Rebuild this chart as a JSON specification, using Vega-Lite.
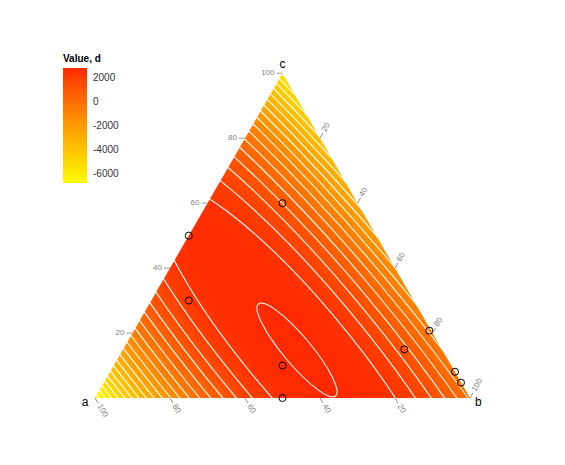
{
  "$schema": "https://vega.github.io/schema/vega-lite/v6.json",
  "width": 565,
  "height": 465,
  "padding": 0,
  "autosize": {"type": "none"},
  "background": "white",
  "config": {"view": {"stroke": null}, "font": "Liberation Sans"},
  "datasets": {
    "bands": [
      {"level": -7500},{"level": -7400},{"level": -7300},{"level": -7200},{"level": -7100},{"level": -7000},{"level": -6900},{"level": -6800},{"level": -6700},{"level": -6600},
      {"level": -6500},{"level": -6400},{"level": -6300},{"level": -6200},{"level": -6100},{"level": -6000},{"level": -5900},{"level": -5800},{"level": -5700},{"level": -5600},
      {"level": -5500},{"level": -5400},{"level": -5300},{"level": -5200},{"level": -5100},{"level": -5000},{"level": -4900},{"level": -4800},{"level": -4700},{"level": -4600},
      {"level": -4500},{"level": -4400},{"level": -4300},{"level": -4200},{"level": -4100},{"level": -4000},{"level": -3900},{"level": -3800},{"level": -3700},{"level": -3600},
      {"level": -3500},{"level": -3400},{"level": -3300},{"level": -3200},{"level": -3100},{"level": -3000},{"level": -2900},{"level": -2800},{"level": -2700},{"level": -2600},
      {"level": -2500},{"level": -2400},{"level": -2300},{"level": -2200},{"level": -2100},{"level": -2000},{"level": -1900},{"level": -1800},{"level": -1700},{"level": -1600},
      {"level": -1500},{"level": -1400},{"level": -1300},{"level": -1200},{"level": -1100},{"level": -1000},{"level": -900},{"level": -800},{"level": -700},{"level": -600},
      {"level": -500},{"level": -400},{"level": -300},{"level": -200},{"level": -100},{"level": 0},{"level": 100},{"level": 200},{"level": 300},{"level": 400},
      {"level": 500},{"level": 600},{"level": 700},{"level": 800},{"level": 900},{"level": 1000},{"level": 1100},{"level": 1200},{"level": 1300},{"level": 1400},
      {"level": 1500},{"level": 1600},{"level": 1700},{"level": 1800},{"level": 1900},{"level": 2000},{"level": 2100},{"level": 2200},{"level": 2300},{"level": 2400},
      {"level": 2500},{"level": 2600},{"level": 2700},{"level": 2800},{"level": 2900},{"level": 3000},{"level": 3050}
    ],
    "contours": [
      {"level": -7000},{"level": -6500},{"level": -6000},{"level": -5500},{"level": -5000},{"level": -4500},{"level": -4000},
      {"level": -3500},{"level": -3000},{"level": -2500},{"level": -2000},{"level": -1500},{"level": -1000},{"level": -500},
      {"level": 0},{"level": 500},{"level": 1000},{"level": 1500},{"level": 2000},{"level": 2500},{"level": 3000}
    ],
    "mask": [
      {"poly": "A", "i": 0, "x": -30, "y": -20},
      {"poly": "A", "i": 1, "x": 130, "y": -20},
      {"poly": "A", "i": 2, "x": 130, "y": 0},
      {"poly": "A", "i": 3, "x": -30, "y": 0},
      {"poly": "B", "i": 0, "x": -30, "y": -5},
      {"poly": "B", "i": 1, "x": 0, "y": 0},
      {"poly": "B", "i": 2, "x": 50, "y": 86.603},
      {"poly": "B", "i": 3, "x": 100, "y": 0},
      {"poly": "B", "i": 4, "x": 130, "y": -5},
      {"poly": "B", "i": 5, "x": 130, "y": 112},
      {"poly": "B", "i": 6, "x": -30, "y": 112}
    ],
    "pts": [
      {"x": 25.0, "y": 43.3},
      {"x": 50.0, "y": 51.96},
      {"x": 25.0, "y": 25.98},
      {"x": 50.0, "y": 8.66},
      {"x": 50.0, "y": 0.0},
      {"x": 82.5, "y": 12.99},
      {"x": 89.15, "y": 17.95},
      {"x": 96.0, "y": 7.0},
      {"x": 97.6, "y": 4.1}
    ],
    "ticks": [
      {"ax": "c", "label": "20", "x": 10, "y": 17.32},
      {"ax": "c", "label": "40", "x": 20, "y": 34.64},
      {"ax": "c", "label": "60", "x": 30, "y": 51.96},
      {"ax": "c", "label": "80", "x": 40, "y": 69.28},
      {"ax": "c", "label": "100", "x": 50, "y": 86.6},
      {"ax": "a", "label": "100", "x": 0, "y": 0},
      {"ax": "a", "label": "80", "x": 20, "y": 0},
      {"ax": "a", "label": "60", "x": 40, "y": 0},
      {"ax": "a", "label": "40", "x": 60, "y": 0},
      {"ax": "a", "label": "20", "x": 80, "y": 0},
      {"ax": "b", "label": "20", "x": 60, "y": 69.28},
      {"ax": "b", "label": "40", "x": 70, "y": 51.96},
      {"ax": "b", "label": "60", "x": 80, "y": 34.64},
      {"ax": "b", "label": "80", "x": 90, "y": 17.32},
      {"ax": "b", "label": "100", "x": 100, "y": 0}
    ],
    "corners": [
      {"label": "a", "x": -2.67, "y": -1.0},
      {"label": "b", "x": 102.2, "y": -1.0},
      {"label": "c", "x": 50, "y": 89.1}
    ]
  },
  "layer": [
    {
      "data": {"name": "bands"},
      "mark": {"type": "point", "shape": "M-1,0A1,0.233,0,1,1,1,0A1,0.233,0,1,1,-1,0Z", "filled": true, "angle": 50, "strokeWidth": 0, "opacity": 1},
      "encoding": {
        "x": {"datum": 53.87, "type": "quantitative", "scale": {"domain": [-25.333, 125.333], "nice": false, "zero": false}, "axis": null},
        "y": {"datum": 12.8, "type": "quantitative", "scale": {"domain": [-17.867, 106.133], "nice": false, "zero": false}, "axis": null},
        "size": {"field": "level", "type": "quantitative", "scale": {"domain": [3100, 3000, 2500, -7500], "range": [0, 14400, 185040, 2742480], "zero": false}, "legend": null},
        "fill": {"field": "level", "type": "quantitative", "title": "Value, d",
          "scale": {"domain": [-6750, -6000, -4000, -2000, 0, 2000, 2833], "range": ["#FFFF00", "#FFEC00", "#FFC400", "#FF9B00", "#FF6E00", "#FF3F00", "#FF2A00"], "clamp": true, "interpolate": "rgb"},
          "legend": {"orient": "none", "legendX": 63, "legendY": 54, "titleFontSize": 10, "titleFontWeight": "bold", "titleColor": "#000000", "titlePadding": 4, "gradientLength": 115, "gradientThickness": 24, "gradientStrokeWidth": 0, "labelFontSize": 10, "labelColor": "#333333", "labelOffset": 6, "values": [2000, 0, -2000, -4000, -6000], "labelExpr": "'' + datum.value", "direction": "vertical"}},
        "order": {"field": "level", "type": "quantitative", "sort": "ascending"}
      }
    },
    {
      "data": {"name": "contours"},
      "mark": {"type": "point", "shape": "M-1,0A1,0.233,0,1,1,1,0A1,0.233,0,1,1,-1,0Z", "filled": false, "angle": 50, "stroke": "white", "strokeWidth": 1.1, "opacity": 1},
      "encoding": {
        "x": {"datum": 53.87, "type": "quantitative", "axis": null},
        "y": {"datum": 12.8, "type": "quantitative", "axis": null},
        "size": {"field": "level", "type": "quantitative", "legend": null}
      }
    },
    {
      "data": {"name": "mask"},
      "mark": {"type": "line", "fill": "white", "stroke": "white", "strokeWidth": 0},
      "encoding": {
        "x": {"field": "x", "type": "quantitative", "axis": null},
        "y": {"field": "y", "type": "quantitative", "axis": null},
        "detail": {"field": "poly"},
        "order": {"field": "i", "type": "quantitative"}
      }
    },
    {
      "data": {"name": "pts"},
      "mark": {"type": "point", "shape": "circle", "filled": false, "stroke": "black", "strokeWidth": 1, "size": 50, "opacity": 1},
      "encoding": {
        "x": {"field": "x", "type": "quantitative", "axis": null},
        "y": {"field": "y", "type": "quantitative", "axis": null}
      }
    },
    {
      "data": {"name": "ticks"},
      "transform": [{"filter": "datum.ax == 'c'"}],
      "mark": {"type": "point", "shape": "M0,0L1,0", "filled": false, "stroke": "#7f7f7f", "strokeWidth": 0.8, "size": 144, "angle": 180, "opacity": 1},
      "encoding": {"x": {"field": "x", "type": "quantitative", "axis": null}, "y": {"field": "y", "type": "quantitative", "axis": null}}
    },
    {
      "data": {"name": "ticks"},
      "transform": [{"filter": "datum.ax == 'a'"}],
      "mark": {"type": "point", "shape": "M0,0L1,0", "filled": false, "stroke": "#7f7f7f", "strokeWidth": 0.8, "size": 144, "angle": 60, "opacity": 1},
      "encoding": {"x": {"field": "x", "type": "quantitative", "axis": null}, "y": {"field": "y", "type": "quantitative", "axis": null}}
    },
    {
      "data": {"name": "ticks"},
      "transform": [{"filter": "datum.ax == 'b'"}],
      "mark": {"type": "point", "shape": "M0,0L1,0", "filled": false, "stroke": "#7f7f7f", "strokeWidth": 0.8, "size": 144, "angle": -60, "opacity": 1},
      "encoding": {"x": {"field": "x", "type": "quantitative", "axis": null}, "y": {"field": "y", "type": "quantitative", "axis": null}}
    },
    {
      "data": {"name": "ticks"},
      "transform": [{"filter": "datum.ax == 'c'"}],
      "mark": {"type": "text", "align": "right", "baseline": "middle", "dx": -8, "fontSize": 8, "color": "#7f7f7f"},
      "encoding": {"x": {"field": "x", "type": "quantitative", "axis": null}, "y": {"field": "y", "type": "quantitative", "axis": null}, "text": {"field": "label"}}
    },
    {
      "data": {"name": "ticks"},
      "transform": [{"filter": "datum.ax == 'a'"}],
      "mark": {"type": "text", "align": "left", "baseline": "middle", "dx": 8, "angle": 60, "fontSize": 8, "color": "#7f7f7f"},
      "encoding": {"x": {"field": "x", "type": "quantitative", "axis": null}, "y": {"field": "y", "type": "quantitative", "axis": null}, "text": {"field": "label"}}
    },
    {
      "data": {"name": "ticks"},
      "transform": [{"filter": "datum.ax == 'b'"}],
      "mark": {"type": "text", "align": "left", "baseline": "middle", "dx": 8, "angle": -60, "fontSize": 8, "color": "#7f7f7f"},
      "encoding": {"x": {"field": "x", "type": "quantitative", "axis": null}, "y": {"field": "y", "type": "quantitative", "axis": null}, "text": {"field": "label"}}
    },
    {
      "data": {"name": "corners"},
      "mark": {"type": "text", "align": "center", "baseline": "middle", "fontSize": 12, "color": "#000000"},
      "encoding": {"x": {"field": "x", "type": "quantitative", "axis": null}, "y": {"field": "y", "type": "quantitative", "axis": null}, "text": {"field": "label"}}
    }
  ]
}
